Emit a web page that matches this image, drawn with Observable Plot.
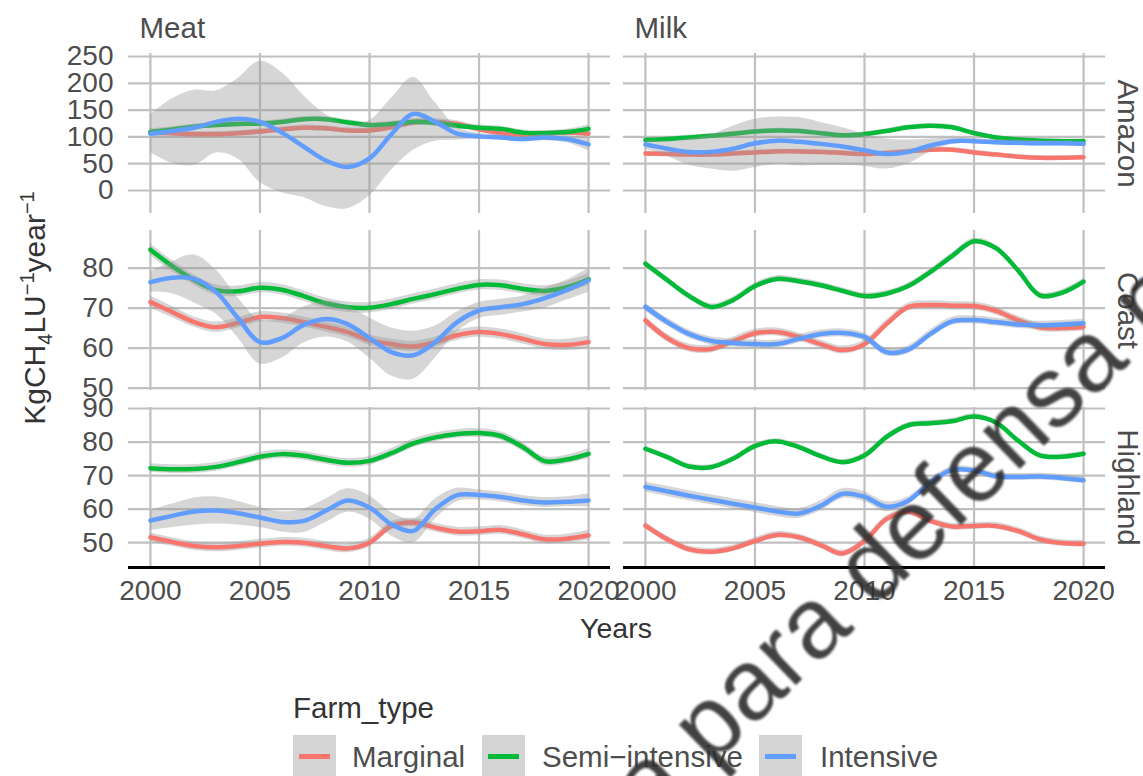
<!DOCTYPE html>
<html>
<head>
<meta charset="utf-8">
<script src="https://cdn.jsdelivr.net/npm/d3@7"></script>
<script src="https://cdn.jsdelivr.net/npm/@observablehq/plot@0.6"></script>
<style>
  html, body { margin: 0; padding: 0; background: #fff; }
  body { width: 1143px; height: 776px; overflow: hidden; position: relative;
         font-family: 'Liberation Sans', Arial, sans-serif; }
  .row { position: absolute; left: 0; }
  .abs { position: absolute; white-space: nowrap; }
  #ytitle { left: 35px; top: 308px; transform: translate(-50%, -50%) rotate(-90deg);
            font-size: 30px; color: #333; line-height: 1; }
  #ytitle sub, #ytitle sup { font-size: 20px; line-height: 0; }
  #xtitle { left: 0; width: 1232px; text-align: center; top: 614px; font-size: 28.5px;
            line-height: 28.5px; color: #333; }
  #legtitle { left: 293px; top: 693px; font-size: 29.5px; line-height: 29.5px; color: #333; }
  .key { position: absolute; top: 735px; width: 43px; height: 43px; background: #d4d4d4; }
  .key span { position: absolute; left: 6px; right: 6px; top: 19px; height: 4.5px; }
  .leglab { top: 742px; font-size: 29.5px; line-height: 29.5px; color: #4d4d4d; }
  #wm { position: absolute; left: 0; top: 0; pointer-events: none; }
</style>
</head>
<body>
<div id="rows"></div>
<div id="ytitle" class="abs">KgCH<sub>4</sub>LU<sup>−1</sup>year<sup>−1</sup></div>
<div id="xtitle" class="abs">Years</div>
<div id="legend"></div>
<svg id="wm" width="1143" height="776">
  <text x="503" y="968" transform="rotate(-44 503 968)" font-family="'Liberation Sans', Arial, sans-serif"
        font-size="100" fill="#2e2e2e" opacity="0.9" style="filter: blur(1.1px)">Copia para defensa privada</text>
</svg>
<script>
// ---------------- data ----------------
const years = [2000,2001,2002,2003,2004,2005,2006,2007,2008,2009,2010,2011,2012,2013,2014,2015,2016,2017,2018,2019,2020];
const farmTypes = ["Marginal", "Semi-intensive", "Intensive"];
const farmLabels = ["Marginal", "Semi−intensive", "Intensive"];
const farmColors = ["#F8766D", "#00BA38", "#619CFF"];
const productTypes = ["Meat", "Milk"];
const regions = ["Amazon", "Coast", "Highland"];
const xTicks = [2000, 2005, 2010, 2015, 2020];
const amazonTicks = [0, 50, 100, 150, 200, 250];
const coastTicks = [50, 60, 70, 80];
const highlandTicks = [50, 60, 70, 80, 90];

// Meat - Amazon
const meatAmazonMarginal   = [108,107,105,105,107,110,114,117,116,112,112,118,127,128,124,114,107,104,106,108,106];
const meatAmazonMarginalSE = [6,5,5,5,5,5,5,5,5,5,5,5,6,6,6,5,5,5,5,5,7];
const meatAmazonSemi       = [109,114,119,122,124,125,128,133,133,127,122,124,128,126,121,117,115,108,107,109,115];
const meatAmazonSemiSE     = [6,5,5,5,5,5,5,5,5,5,5,5,6,6,6,5,5,5,5,5,7];
const meatAmazonInt        = [106,111,117,128,134,128,108,82,56,44,60,105,143,128,106,101,99,96,99,96,86];
const meatAmazonIntSE      = [35,60,70,58,75,113,112,95,86,78,70,67,68,36,12,6,5,5,6,7,12];
// Milk - Amazon
const milkAmazonMarginal   = [69,68,67,67,69,71,73,73,72,70,68,70,73,76,76,71,67,63,61,61,62];
const milkAmazonMarginalSE = [4,4,4,4,4,4,4,4,4,4,4,4,4,4,4,4,4,4,4,4,4];
const milkAmazonSemi       = [94,96,99,102,106,110,112,111,107,103,105,111,118,121,118,107,99,95,93,92,92];
const milkAmazonSemiSE     = [4,4,4,4,4,4,4,4,4,4,4,4,4,4,4,4,4,4,4,4,4];
const milkAmazonInt        = [86,78,72,72,78,88,93,91,87,82,75,68,72,84,92,92,90,89,88,88,87];
const milkAmazonIntSE      = [8,14,25,32,42,45,44,45,40,35,30,28,22,12,6,5,5,5,5,5,5];
// Meat - Coast
const meatCoastMarginal    = [71.5,69,66.5,65.2,66.3,67.8,67.5,66.5,65.3,64,62,61,60.4,61.5,63.2,64,63.5,62.3,61,60.8,61.5];
const meatCoastMarginalSE  = [1.5,1.4,1.3,1.3,1.3,1.3,1.3,1.3,1.3,1.3,1.3,1.3,1.3,1.3,1.3,1.3,1.3,1.3,1.3,1.4,1.5];
const meatCoastSemi        = [84.6,80.5,77,74.5,74.2,75.1,74.6,73,71.2,70.2,70.1,71,72.3,73.5,74.8,75.8,75.7,74.8,74.3,75.2,77.2];
const meatCoastSemiSE      = [1.5,1.4,1.3,1.3,1.3,1.3,1.3,1.3,1.3,1.3,1.3,1.3,1.3,1.3,1.3,1.3,1.3,1.3,1.3,1.4,1.5];
const meatCoastInt         = [76.5,77.6,77.3,74,67.5,61.5,62.5,65.8,67.3,66,62.5,59,58.2,61.5,66.5,69.4,70.2,71,72.5,74.5,76.9];
const meatCoastIntSE       = [2.5,4,6,5.5,5,5.5,5,4.5,4.5,4.5,5,6,6,4,2.5,2,2,2,2.5,2.5,3];
// Milk - Coast
const milkCoastMarginal    = [66.9,62.5,60,59.8,61.7,63.7,64,62.8,61,59.5,61,66,70.3,70.8,70.6,70.5,69.3,67,65.2,65,65.3];
const milkCoastMarginalSE  = [1,1,1,1,1,1,1,1,1,1,1,1,1,1,1,1,1,1,1,1,1];
const milkCoastSemi        = [81.1,77,73,70.3,72,75.5,77.3,76.7,75.7,74.3,73,73.6,75.5,79,83,86.7,85,79.5,73.2,73.8,76.6];
const milkCoastSemiSE      = [0.8,0.8,0.8,0.8,0.8,0.8,0.8,0.8,0.8,0.8,0.8,0.8,0.8,0.8,0.8,0.8,0.8,0.8,0.8,0.8,0.8];
const milkCoastInt         = [70.3,66.5,63.5,61.8,61.3,61,61,62.3,63.5,63.8,62.8,59,59.6,63.5,66.7,67,66.5,65.9,65.7,65.9,66.2];
const milkCoastIntSE       = [1,1,1,1,1,1,1,1,1,1,1,1,1,1,1,1,1,1,1,1,1];
// Meat - Highland
const meatHighlandMarginal   = [51.6,50.2,49,48.6,49,49.7,50.2,50,49,48.3,50,55,56,54.5,53.3,53.4,53.8,52.5,51,51.2,52.2];
const meatHighlandMarginalSE = [1.3,1.3,1.3,1.3,1.3,1.3,1.3,1.3,1.3,1.3,1.3,1.3,1.3,1.3,1.3,1.3,1.3,1.3,1.3,1.3,1.5];
const meatHighlandSemi       = [72.2,71.9,72,72.6,74,75.6,76.4,75.9,74.7,73.8,74.4,76.7,79.6,81.4,82.4,82.7,81.8,78.5,74.3,74.8,76.5];
const meatHighlandSemiSE     = [1.3,1.3,1.3,1.3,1.3,1.3,1.3,1.3,1.3,1.3,1.3,1.3,1.3,1.3,1.3,1.3,1.3,1.3,1.3,1.3,1.5];
const meatHighlandInt        = [56.6,58,59.3,59.6,58.8,57.5,56.2,56.5,59.5,62.6,60.5,55.5,53.5,60,64.2,64.2,63.6,62.6,62,62.2,62.6];
const meatHighlandIntSE      = [3,3.5,4,4,3.5,3,3,3.5,3.5,3.5,3.5,3.5,3.5,3,2,1.5,1.5,1.5,1.5,1.5,2];
// Milk - Highland
const milkHighlandMarginal   = [55.1,51,48,47.3,48.3,50.5,52.3,51.6,49.3,46.8,50.5,57,59.2,56.5,54.8,55,55,53.5,51,49.9,49.7];
const milkHighlandMarginalSE = [1,1,1,1,1,1,1,1,1,1,1,1,1,1,1,1,1,1,1,1,1];
const milkHighlandSemi       = [78,75.5,72.7,72.5,75,78.8,80.2,78.5,75.8,74,76,81.5,85,85.6,86.2,87.6,85.8,80.5,76,75.6,76.5];
const milkHighlandSemiSE     = [0.8,0.8,0.8,0.8,0.8,0.8,0.8,0.8,0.8,0.8,0.8,0.8,0.8,0.8,0.8,0.8,0.8,0.8,0.8,0.8,0.8];
const milkHighlandInt        = [66.6,65.3,64,62.8,61.6,60.5,59.3,58.7,61,64.6,63.7,60.7,62.5,68,71.7,71.5,69.8,69.6,69.7,69.3,68.6];
const milkHighlandIntSE      = [1.5,1.5,1.5,1.5,1.5,1.5,1.5,1.5,1.5,1.5,1.5,1.5,1.2,1,1,1,1,1,1,1,1];

// ---------------- table ----------------
const seriesTable = [
  ["Meat","Amazon",[meatAmazonMarginal,meatAmazonMarginalSE],[meatAmazonSemi,meatAmazonSemiSE],[meatAmazonInt,meatAmazonIntSE]],
  ["Milk","Amazon",[milkAmazonMarginal,milkAmazonMarginalSE],[milkAmazonSemi,milkAmazonSemiSE],[milkAmazonInt,milkAmazonIntSE]],
  ["Meat","Coast",[meatCoastMarginal,meatCoastMarginalSE],[meatCoastSemi,meatCoastSemiSE],[meatCoastInt,meatCoastIntSE]],
  ["Milk","Coast",[milkCoastMarginal,milkCoastMarginalSE],[milkCoastSemi,milkCoastSemiSE],[milkCoastInt,milkCoastIntSE]],
  ["Meat","Highland",[meatHighlandMarginal,meatHighlandMarginalSE],[meatHighlandSemi,meatHighlandSemiSE],[meatHighlandInt,meatHighlandIntSE]],
  ["Milk","Highland",[milkHighlandMarginal,milkHighlandMarginalSE],[milkHighlandSemi,milkHighlandSemiSE],[milkHighlandInt,milkHighlandIntSE]]
];
const table = [];
for (const [type, region, ...series] of seriesTable) {
  series.forEach(([vals, se], k) => {
    years.forEach((yr, i) => {
      table.push({type, region, farm: farmTypes[k], year: yr, value: vals[i], lo: vals[i] - se[i], hi: vals[i] + se[i]});
    });
  });
}

// ---------------- rows ----------------
const gridColor = "#c0c0c0";
const rowSpecs = [
  {region: "Amazon",   domain: [-42.9, 255.6], ticks: amazonTicks,   top: 0,   mt: 53, mb: 0},
  {region: "Coast",    domain: [49.4, 89.4],   ticks: coastTicks,    top: 213, mt: 17, mb: 0},
  {region: "Highland", domain: [42.6, 90.3],   ticks: highlandTicks, top: 390, mt: 17, mb: 90}
];
const panelH = 160;

rowSpecs.forEach((spec, r) => {
  const data = table.filter(d => d.region === spec.region);
  const isTop = r === 0, isBottom = r === rowSpecs.length - 1;
  const marks = [
    Plot.gridY(spec.ticks, {stroke: gridColor, strokeWidth: 2.2, strokeOpacity: 1}),
    Plot.gridX(xTicks, {stroke: gridColor, strokeWidth: 2.2, strokeOpacity: 1})
  ];
  farmTypes.forEach((f, k) => {
    const sd = data.filter(d => d.farm === f);
    marks.push(Plot.areaY(sd, {x: "year", y1: "lo", y2: "hi", fx: "type", z: "type",
      fill: "#999999", fillOpacity: 0.4, curve: "catmull-rom"}));
    marks.push(Plot.lineY(sd, {x: "year", y: "value", fx: "type", z: "type",
      stroke: farmColors[k], strokeWidth: 4.5, curve: "catmull-rom"}));
  });
  marks.push(Plot.axisY(spec.ticks, {anchor: "left", tickSize: 0, tickPadding: 15, label: null, fill: "#4d4d4d"}));
  if (isBottom) {
    marks.push(Plot.ruleY([spec.domain[0]], {stroke: "#000", strokeWidth: 3}));
    marks.push(Plot.axisX(xTicks, {anchor: "bottom", tickSize: 0, tickPadding: 13, label: null,
      tickFormat: d => String(d), fill: "#4d4d4d"}));
  }
  if (isTop) {
    marks.push(Plot.text(productTypes, {fx: d => d, text: d => d, frameAnchor: "top-left",
      dx: 11, dy: -25, textAnchor: "start", lineAnchor: "middle", fontSize: 29.5, fill: "#4d4d4d"}));
  }
  marks.push(Plot.text([{fx: "Milk", t: spec.region}], {fx: "fx", text: "t", frameAnchor: "right",
    dx: 22, rotate: 90, textAnchor: "middle", lineAnchor: "middle", fontSize: 29.5, fill: "#4d4d4d"}));

  const chart = Plot.plot({
    width: 1143,
    height: spec.mt + panelH + spec.mb,
    marginLeft: 127, marginRight: 38, marginTop: spec.mt, marginBottom: spec.mb,
    style: {fontFamily: "'Liberation Sans', Arial, sans-serif", fontSize: "28px", color: "#4d4d4d",
            background: "transparent", overflow: "visible"},
    fx: {domain: productTypes, paddingInner: 0.0263, paddingOuter: 0, axis: null, label: null},
    x: {domain: [1999, 2021], label: null, axis: isBottom ? undefined : null},
    y: {domain: spec.domain, label: null},
    marks
  });
  const div = document.createElement("div");
  div.className = "row";
  div.style.top = spec.top + "px";
  div.appendChild(chart);
  document.getElementById("rows").appendChild(div);
});

// ---------------- legend ----------------
const legend = document.getElementById("legend");
const legTitle = document.createElement("div");
legTitle.className = "abs"; legTitle.id = "legtitle"; legTitle.textContent = "Farm_type";
legend.appendChild(legTitle);
const keyLefts = [293, 482, 759];
const labLefts = [352, 542, 820];
farmLabels.forEach((lab, k) => {
  const key = document.createElement("div");
  key.className = "key"; key.style.left = keyLefts[k] + "px";
  const line = document.createElement("span"); line.style.background = farmColors[k];
  key.appendChild(line); legend.appendChild(key);
  const t = document.createElement("div");
  t.className = "abs leglab"; t.style.left = labLefts[k] + "px"; t.textContent = lab;
  legend.appendChild(t);
});
</script>
</body>
</html>
